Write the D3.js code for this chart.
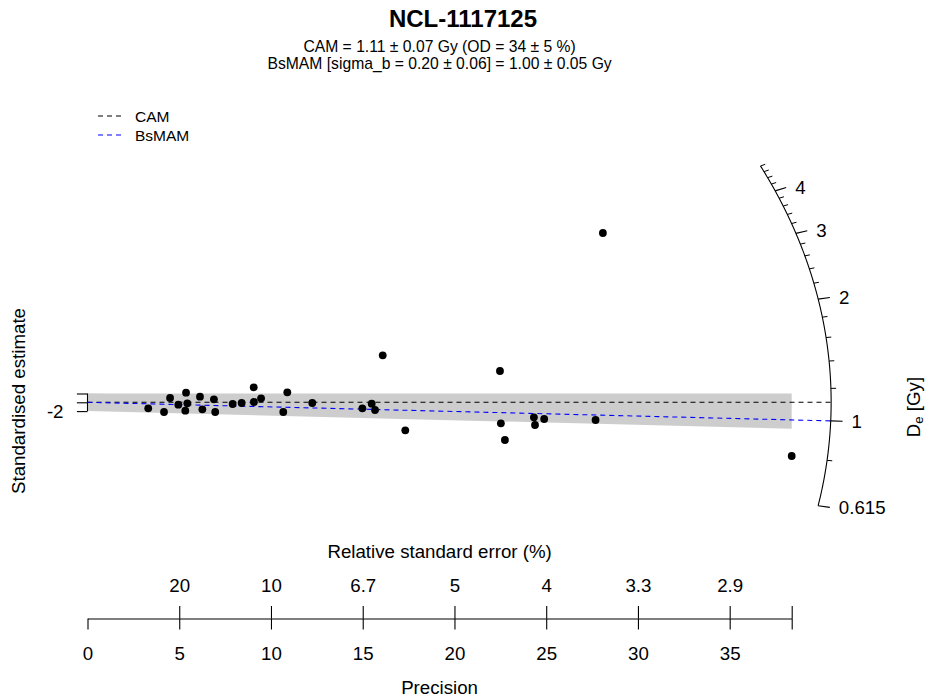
<!DOCTYPE html>
<html>
<head>
<meta charset="utf-8">
<script src="https://cdn.jsdelivr.net/npm/d3@7"></script>
<style>
  html, body { margin: 0; padding: 0; background: #fff; }
  svg { display: block; font-family: "Liberation Sans", Arial, sans-serif; }
</style>
</head>
<body>
<svg id="chart" width="926" height="699"></svg>
<script>
// ---------------- data ----------------
const title = "NCL-1117125";
const subtitleLines = [
  "CAM = 1.11 \u00b1 0.07 Gy (OD = 34 \u00b1 5 %)",
  "BsMAM [sigma_b = 0.20 \u00b1 0.06] = 1.00 \u00b1 0.05 Gy"
];
const centralNames = ["CAM", "BsMAM"];
const centralValues = [1.11, 1.00];           // Gy
const centralColors = ["#000000", "#0000ff"];

// precision (1/relative se) and standardised estimate of each aliquot
const precision = [3.31, 4.17, 4.50, 4.95, 5.37, 5.44, 5.33, 6.13, 6.26, 6.89, 6.96,
  7.91, 8.40, 9.06, 9.07, 9.46, 10.67, 10.89, 12.25, 14.98, 15.49, 15.67, 16.09,
  17.32, 22.48, 22.53, 22.75, 24.33, 24.39, 24.89, 27.69, 28.09, 38.38];
const stdEstimate = [-1.36, -2.20, 0.98, -0.55, 2.18, -0.23, -1.91, 1.27, -1.59, 0.68, -2.20,
  -0.39, -0.16, 3.41, 0.07, 0.91, -2.20, 2.27, -0.16, -1.36, -0.32, -1.75, 10.68,
  -6.36, 7.11, -4.77, -8.57, -3.41, -5.16, -3.80, -4.02, 38.48, -12.20];

const precisionTicks = [0, 5, 10, 15, 20, 25, 30, 35];
const rseTicks = [5, 10, 15, 20, 25, 30, 35];
const rseTickLabels = ["20", "10", "6.7", "5", "4", "3.3", "2.9"];
const yTicks = [-2, 0, 2];
const yTickLabels = ["-2", "", ""];
const deMajorTicks = [0.615, 1, 2, 3, 4];
const deMinorTicks = [0.8, 1.2, 1.4, 1.6, 1.8, 2.2, 2.4, 2.6, 2.8, 3.2, 3.4, 3.6, 3.8,
  4.2, 4.4, 4.6, 4.8];

// ---------------- layout ----------------
const svg = d3.select("#chart");
const FONT = 18.7;
const xMax = d3.max(precision);
const x = d3.scaleLinear().domain([0, xMax]).range([87.5, 791.7]);
const y = d3.scaleLinear().domain([-25, 40]).range([512.3, 226.3]);

const zCentral = Math.log(centralValues[0]);
const rArc = xMax * 1.056;   // arc radius in precision units
const fArc = 0.321;          // aspect factor of the arc
function arcPoint(v, k = 1) {
  const s = Math.log(v) - zCentral;
  const xd = k * rArc / Math.sqrt(1 + fArc * fArc * s * s);
  return [x(xd), y(s * xd)];
}

// ---------------- shaded ±2 bands ----------------
centralValues.forEach(v => {
  const s = Math.log(v) - zCentral;
  const poly = [[0, -2], [xMax, s * xMax - 2], [xMax, s * xMax + 2], [0, 2]];
  svg.append("path")
    .attr("d", d3.line().x(d => x(d[0])).y(d => y(d[1]))(poly) + "Z")
    .attr("fill", "#cdcdcd");
});

// ---------------- central lines ----------------
centralValues.forEach((v, i) => {
  const end = arcPoint(v);
  svg.append("line")
    .attr("x1", x(0)).attr("y1", y(0))
    .attr("x2", end[0]).attr("y2", end[1])
    .attr("stroke", centralColors[i]).attr("stroke-width", 1.1)
    .attr("stroke-dasharray", "5,4");
});

// ---------------- points ----------------
svg.append("g").selectAll("circle")
  .data(precision.map((p, i) => [p, stdEstimate[i]]))
  .join("circle")
  .attr("cx", d => x(d[0])).attr("cy", d => y(d[1]))
  .attr("r", 3.9).attr("fill", "#000");

// ---------------- De arc ----------------
const arcVals = d3.range(0, 501).map(i => deMajorTicks[0] + (4.8 - deMajorTicks[0]) * i / 500);
svg.append("path")
  .attr("d", d3.line()(arcVals.map(v => arcPoint(v))))
  .attr("fill", "none").attr("stroke", "#000").attr("stroke-width", 1.1);
deMinorTicks.forEach(v => {
  const a = arcPoint(v), b = arcPoint(v, 1.007);
  svg.append("line").attr("x1", a[0]).attr("y1", a[1]).attr("x2", b[0]).attr("y2", b[1])
    .attr("stroke", "#000").attr("stroke-width", 1);
});
deMajorTicks.forEach(v => {
  const a = arcPoint(v), b = arcPoint(v, 1.016);
  svg.append("line").attr("x1", a[0]).attr("y1", a[1]).attr("x2", b[0]).attr("y2", b[1])
    .attr("stroke", "#000").attr("stroke-width", 1.1);
  svg.append("text").attr("x", b[0] + 9).attr("y", b[1])
    .attr("dominant-baseline", "central").attr("font-size", FONT).attr("fill", "#000")
    .text(String(v));
});
const deLabel = svg.append("text")
  .attr("transform", "translate(913,407) rotate(-90)")
  .attr("text-anchor", "middle").attr("dominant-baseline", "central")
  .attr("font-size", FONT);
deLabel.append("tspan").text("D");
deLabel.append("tspan").attr("font-size", FONT * 0.7).attr("dy", 5).text("e");
deLabel.append("tspan").attr("dy", -5).text(" [Gy]");

// ---------------- y axis (±2 bracket) ----------------
const yAxisG = svg.append("g").attr("transform", `translate(${x(0)},0)`)
  .call(d3.axisLeft(y).tickValues(yTicks).tickSize(10.6).tickSizeOuter(0)
    .tickFormat((d, i) => yTickLabels[i]));
yAxisG.select(".domain").remove();
yAxisG.append("line").attr("x1", 0).attr("x2", 0)
  .attr("y1", y(-2)).attr("y2", y(2)).attr("stroke", "#000");
yAxisG.selectAll("line").attr("stroke-width", 1.1);
yAxisG.selectAll("text").attr("font-size", FONT).attr("font-family", null)
  .attr("fill", "#000").attr("x", -24).attr("dy", "0.35em");
svg.append("text")
  .attr("transform", "translate(18,401) rotate(-90)")
  .attr("text-anchor", "middle").attr("dominant-baseline", "central")
  .attr("font-size", FONT).text("Standardised estimate");

// ---------------- x axes ----------------
const axisY = 618.5;
const pAxis = svg.append("g").attr("transform", `translate(0,${axisY})`)
  .call(d3.axisBottom(x).tickValues(precisionTicks.concat([xMax])).tickSize(11).tickSizeOuter(0)
    .tickFormat(d => precisionTicks.includes(d) ? String(d) : ""));
pAxis.selectAll("text").attr("font-size", FONT).attr("font-family", null)
  .attr("fill", "#000").attr("y", 34.5).attr("dy", "0.35em");
pAxis.selectAll("line, path").attr("stroke-width", 1.1);

const rAxis = svg.append("g").attr("transform", `translate(0,${axisY})`)
  .call(d3.axisTop(x).tickValues(rseTicks.concat([xMax])).tickSize(12.5).tickSizeOuter(0)
    .tickFormat(d => { const i = rseTicks.indexOf(d); return i >= 0 ? rseTickLabels[i] : ""; }));
rAxis.select(".domain").remove();
rAxis.selectAll("text").attr("font-size", FONT).attr("font-family", null)
  .attr("fill", "#000").attr("y", -33.5).attr("dy", "0.35em");
rAxis.selectAll("line").attr("stroke-width", 1.1);

const xMid = (x.range()[0] + x.range()[1]) / 2;
svg.append("text").attr("x", xMid).attr("y", 551)
  .attr("text-anchor", "middle").attr("dominant-baseline", "central")
  .attr("font-size", FONT).text("Relative standard error (%)");
svg.append("text").attr("x", xMid).attr("y", 687)
  .attr("text-anchor", "middle").attr("dominant-baseline", "central")
  .attr("font-size", FONT).text("Precision");

// ---------------- title ----------------
svg.append("text").attr("x", 463).attr("y", 18)
  .attr("text-anchor", "middle").attr("dominant-baseline", "central")
  .attr("font-size", 24).attr("font-weight", "bold").text(title);
subtitleLines.forEach((t, i) => {
  svg.append("text").attr("x", xMid).attr("y", 46 + i * 17)
    .attr("text-anchor", "middle").attr("dominant-baseline", "central")
    .attr("font-size", 15.7).text(t);
});

// ---------------- legend ----------------
centralNames.forEach((n, i) => {
  const ly = 116 + i * 19;
  svg.append("line").attr("x1", 98).attr("x2", 123).attr("y1", ly).attr("y2", ly)
    .attr("stroke", centralColors[i]).attr("stroke-width", 1.1).attr("stroke-dasharray", "5,4");
  svg.append("text").attr("x", 135).attr("y", ly).attr("dominant-baseline", "central")
    .attr("font-size", 15.5).text(n);
});
</script>
</body>
</html>
